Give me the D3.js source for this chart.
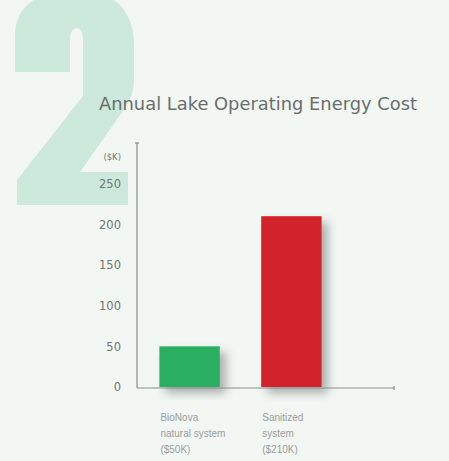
<!DOCTYPE html>
<html>
<head>
<meta charset="utf-8">
<script src="https://cdn.jsdelivr.net/npm/d3@7"></script>
<style>
  html, body { margin: 0; padding: 0; background: #f2f7f4; }
  svg { display: block; }
</style>
</head>
<body>
<div id="chart"></div>
<script>
// chart data
const categories = ['BioNova', 'Sanitized'];
const labelLines = [
  ['BioNova', 'natural system', '($50K)'],
  ['Sanitized', 'system', '($210K)'],
];
const costs = [50, 210];
const barColors = ['#2aae5e', '#d22229'];
const yTicks = [0, 50, 100, 150, 200, 250];

const width = 449, height = 461;
const axisX = 137, axisEnd = 394;
const baseY = 387, topY = 143;

const svg = d3.select('#chart').append('svg')
  .attr('width', width)
  .attr('height', height);

svg.append('rect')
  .attr('width', width).attr('height', height)
  .attr('fill', '#f2f7f4');

const defs = svg.append('defs');
const shadow = defs.append('filter')
  .attr('id', 'shadow')
  .attr('x', '-30%').attr('y', '-20%')
  .attr('width', '170%').attr('height', '150%');
shadow.append('feDropShadow')
  .attr('dx', 6).attr('dy', 6)
  .attr('stdDeviation', 5)
  .attr('flood-color', '#000')
  .attr('flood-opacity', 0.3);

// big decorative "2"
svg.append('path')
  .attr('d', 'M15 72 L15 35 C15 5 40 -10 75 -10 C114 -10 134 10 134 45 L134 80 '
    + 'C134 92 130 100 125 108 L80 172 L128 172 L128 205 L17 205 L17 180 '
    + 'L83 96 L83 40 C83 32 80 28 76.5 28 C73 28 70 32 70 40 L70 72 Z')
  .attr('fill', '#cde9dc');

svg.append('text')
  .attr('x', 99).attr('y', 110)
  .attr('font-family', 'DejaVu Sans, sans-serif')
  .attr('font-size', 17.5)
  .attr('fill', '#6a6e6c')
  .attr('textLength', 318)
  .attr('lengthAdjust', 'spacingAndGlyphs')
  .text('Annual Lake Operating Energy Cost');

const y = d3.scaleLinear().domain([0, 300]).range([baseY, topY]);
const x = d3.scaleBand()
  .domain(categories)
  .range([axisX, 344])
  .paddingInner(0.407)
  .paddingOuter(0.22);

// bars
svg.selectAll('.bar')
  .data(costs)
  .join('rect')
  .attr('class', 'bar')
  .attr('x', (d, i) => x(categories[i]))
  .attr('y', (d) => y(d))
  .attr('width', x.bandwidth())
  .attr('height', (d) => y(0) - y(d))
  .attr('fill', (d, i) => barColors[i])
  .attr('filter', 'url(#shadow)');

// y axis
const yAxis = svg.append('g')
  .attr('transform', `translate(${axisX},0)`)
  .call(d3.axisLeft(y).tickValues(yTicks).tickSize(0).tickPadding(16));
yAxis.select('.domain').remove();
yAxis.selectAll('text')
  .attr('font-family', 'DejaVu Sans, sans-serif')
  .attr('font-size', 11.5)
  .attr('fill', '#707572');

svg.append('line')
  .attr('x1', axisX).attr('x2', axisX)
  .attr('y1', y(300)).attr('y2', baseY + 1)
  .attr('stroke', '#8a8d8b').attr('stroke-width', 1.2);
svg.append('line')
  .attr('x1', axisX - 2).attr('x2', axisX + 2)
  .attr('y1', y(300)).attr('y2', y(300))
  .attr('stroke', '#8a8d8b').attr('stroke-width', 1.2);

// x axis
svg.append('line')
  .attr('x1', axisX).attr('x2', axisEnd)
  .attr('y1', baseY + 1).attr('y2', baseY + 1)
  .attr('stroke', '#8a8d8b').attr('stroke-width', 1.2);
svg.append('line')
  .attr('x1', axisEnd).attr('x2', axisEnd)
  .attr('y1', baseY - 1).attr('y2', baseY + 3)
  .attr('stroke', '#8a8d8b').attr('stroke-width', 1.2);

svg.append('text')
  .attr('x', 121).attr('y', 160)
  .attr('text-anchor', 'end')
  .attr('font-family', 'DejaVu Sans, sans-serif')
  .attr('font-size', 8.5)
  .attr('fill', '#707572')
  .text('($K)');

// category labels
const labels = svg.selectAll('.cat')
  .data(labelLines)
  .join('text')
  .attr('class', 'cat')
  .attr('font-family', 'Liberation Sans, Arial, sans-serif')
  .attr('font-size', 10)
  .attr('fill', '#9a9d9b');
labels.each(function (lines, i) {
  d3.select(this).selectAll('tspan')
    .data(lines)
    .join('tspan')
    .attr('x', x(categories[i]) + 1)
    .attr('y', (d, j) => 421 + j * 16)
    .text((d) => d);
});
</script>
</body>
</html>
